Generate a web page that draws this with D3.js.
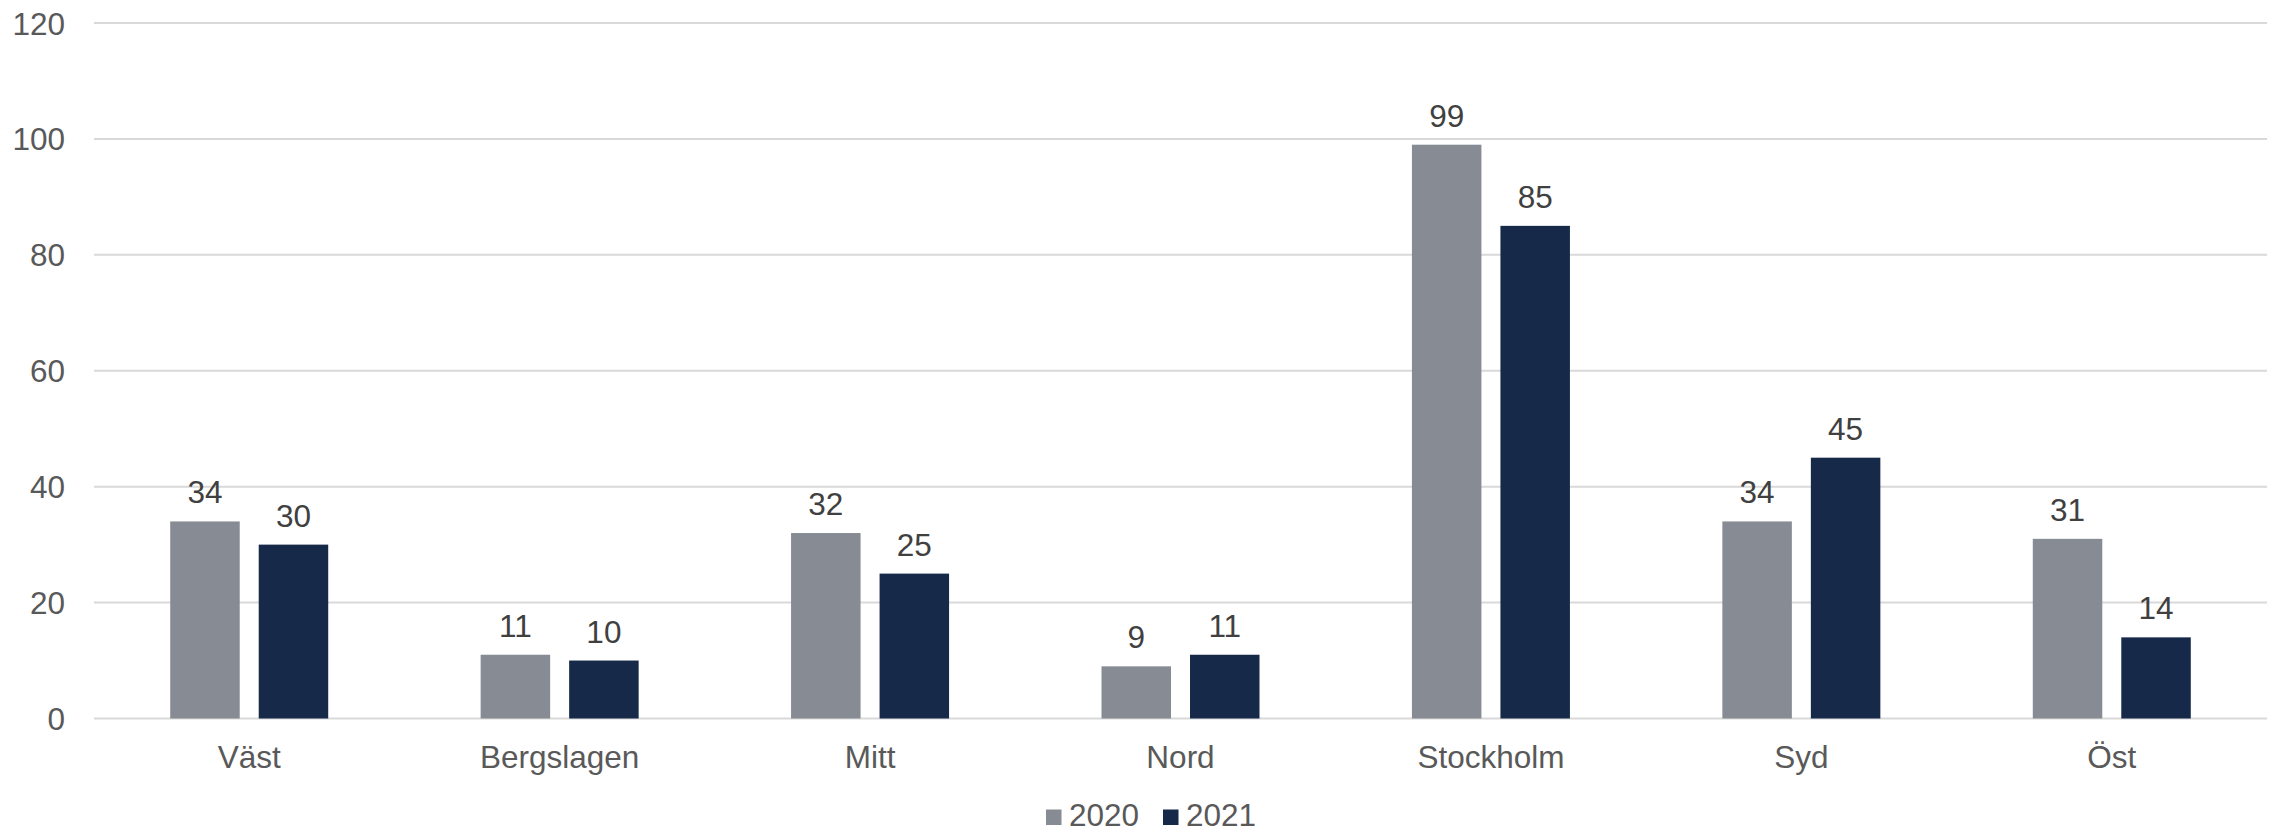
<!DOCTYPE html>
<html><head><meta charset="utf-8">
<script src="https://cdn.jsdelivr.net/npm/d3@7"></script>
<style>html,body{margin:0;padding:0;background:#fff;}svg{display:block;font-family:"Liberation Sans",Arial,sans-serif;}</style>
</head><body>
<svg id="chart" width="2277" height="831"></svg>
<script>
const categories = ["Väst","Bergslagen","Mitt","Nord","Stockholm","Syd","Öst"];
const seriesNames = ["2020","2021"];
const values2020 = [34,11,32,9,99,34,31];
const values2021 = [30,10,25,11,85,45,14];
const yTicks = [0,20,40,60,80,100,120];
const colors = ["#878B94","#172949"];

(function(){
const svg = d3.select("#chart");
const plotL = 94, plotR = 2267, plotT = 23, plotB = 718.5;
const x = d3.scaleBand().domain(categories).range([plotL,plotR]).padding(0);
const y = d3.scaleLinear().domain([0,120]).range([plotB, plotT]);
const groupW = 158;
const xs = d3.scaleBand().domain(seriesNames).range([-groupW/2, groupW/2]).paddingInner(19/88.5).paddingOuter(0);
const fs = 31.5;

svg.append("g").selectAll("line").data(yTicks).join("line")
  .attr("x1", plotL).attr("x2", plotR)
  .attr("y1", d=>y(d)).attr("y2", d=>y(d))
  .attr("stroke","#D9D9D9").attr("stroke-width",2);

const yAxis = d3.axisLeft(y).tickValues(yTicks).tickSize(0).tickPadding(0);
const ya = svg.append("g").attr("transform",`translate(65,0)`).call(yAxis);
ya.select(".domain").remove();
ya.selectAll("text").attr("font-size",fs).attr("fill","#595959").attr("font-family","Liberation Sans, Arial, sans-serif").attr("dy","0.35em");

const xAxis = d3.axisBottom(x).tickSize(0).tickPadding(0);
const xa = svg.append("g").attr("transform",`translate(0,768)`).call(xAxis);
xa.select(".domain").remove();
xa.selectAll("text").attr("font-size",fs).attr("fill","#595959").attr("font-family","Liberation Sans, Arial, sans-serif").attr("dy","0");

const data = categories.map((c,i)=>({cat:c, vals:[values2020[i], values2021[i]]}));
const groups = svg.append("g").selectAll("g").data(data).join("g")
  .attr("transform", d=>`translate(${x(d.cat)+x.bandwidth()/2},0)`);
groups.selectAll("rect").data(d=>d.vals.map((v,j)=>({v, s:seriesNames[j], j})))
  .join("rect")
  .attr("x", d=>xs(d.s)).attr("width", xs.bandwidth())
  .attr("y", d=>y(d.v)).attr("height", d=>plotB - y(d.v))
  .attr("fill", d=>colors[d.j]);
groups.selectAll("text").data(d=>d.vals.map((v,j)=>({v, s:seriesNames[j], j})))
  .join("text")
  .attr("x", d=>xs(d.s)+xs.bandwidth()/2)
  .attr("y", d=>y(d.v)-18)
  .attr("text-anchor","middle").attr("font-size",fs).attr("fill","#404040")
  .text(d=>d.v);

const legX = [1046, 1163];
const leg = svg.append("g").selectAll("g").data(seriesNames).join("g")
  .attr("transform",(d,i)=>`translate(${legX[i]},0)`);
leg.append("rect").attr("x",0).attr("y",809.5).attr("width",15.5).attr("height",15.5).attr("fill",(d,i)=>colors[i]);
leg.append("text").attr("x",23).attr("y",825.5).attr("font-size",fs).attr("fill","#595959").text(d=>d);
})();
</script>
</body></html>
